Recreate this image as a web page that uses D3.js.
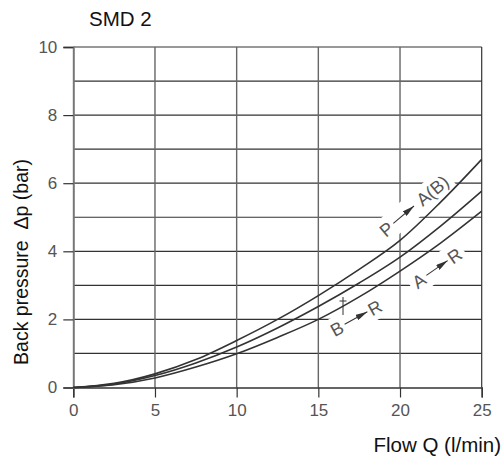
<!DOCTYPE html>
<html><head><meta charset="utf-8">
<script src="https://cdn.jsdelivr.net/npm/d3@7"></script>
<style>html,body{margin:0;padding:0;background:#fff;}svg{display:block;}</style>
</head><body>
<script>
const flow = [0, 2.5, 5, 7.5, 10, 12.5, 15, 17.5, 20, 22.5, 25];
const pToAB = [0, 0.12, 0.40, 0.82, 1.38, 2.0, 2.7, 3.47, 4.32, 5.45, 6.7];
const bToR  = [0, 0.10, 0.35, 0.72, 1.19, 1.75, 2.38, 3.07, 3.83, 4.75, 5.77];
const aToR  = [0, 0.08, 0.28, 0.60, 0.99, 1.47, 2.0, 2.66, 3.42, 4.25, 5.18];
const xTicks = [0, 5, 10, 15, 20, 25];
const yTicks = [0, 2, 4, 6, 8, 10];
const yGrid = [1, 2, 3, 4, 5, 6, 7, 8, 9, 10];
const title = "SMD 2";
const xTitle = "Flow Q (l/min)";
const yTitle = "Back pressure \u00a0\u0394p (bar)";

const W = 503, H = 461;
const svg = d3.select("body").append("svg").attr("width", W).attr("height", H);
const x = d3.scaleLinear().domain([0, 25]).range([73.3, 481.7]);
const y = d3.scaleLinear().domain([0, 10]).range([387.5, 47]);
const font = "'Liberation Sans', Arial, sans-serif";

// grid
const g = svg.append("g");
g.selectAll(".hg").data(yGrid).enter().append("line")
  .attr("x1", x(0)).attr("x2", x(25)).attr("y1", d => y(d)).attr("y2", d => y(d))
  .attr("stroke", "#333").attr("stroke-width", 1.2);
g.selectAll(".vg").data(xTicks.filter(d => d > 0 && d < 25)).enter().append("line")
  .attr("x1", d => x(d)).attr("x2", d => x(d)).attr("y1", y(0)).attr("y2", y(10))
  .attr("stroke", "#666").attr("stroke-width", 1.4);

// label halos (white) to break grid behind labels
const labels = [
  {a: "P", b: "A(B)", cx: 414, cy: 206, ang: -40, w: 84},
  {a: "A", b: "R", cx: 437, cy: 268, ang: -35, w: 56},
  {a: "B", b: "R", cx: 356, cy: 318, ang: -29, w: 56}
];
labels.forEach(l => {
  svg.append("rect").attr("x", -l.w / 2 - 4).attr("y", -12).attr("width", l.w + 8).attr("height", 24)
    .attr("fill", "#fff")
    .attr("transform", `translate(${l.cx},${l.cy}) rotate(${l.ang})`);
});

// axes
const xAxis = d3.axisBottom(x).tickValues(xTicks).tickSize(10).tickPadding(6).tickFormat(d3.format("d"));
const yAxis = d3.axisLeft(y).tickValues(yTicks).tickSize(10).tickPadding(6).tickFormat(d3.format("d"));
const gx = svg.append("g").attr("transform", `translate(0,${y(0)})`).call(xAxis);
const gy = svg.append("g").attr("transform", `translate(${x(0)},0)`).call(yAxis);
[gx, gy].forEach(a => {
  a.select(".domain").attr("stroke", "#333").attr("stroke-width", 1.4);
  a.selectAll(".tick line").attr("stroke", "#333").attr("stroke-width", 1.2);
  a.selectAll(".tick text").attr("font-family", font).attr("font-size", 17).attr("fill", "#555");
});
gy.select(".domain").attr("stroke", "#777").attr("stroke-width", 2);
svg.append("line").attr("x1", x(25)).attr("x2", x(25)).attr("y1", y(0)).attr("y2", y(10))
  .attr("stroke", "#333").attr("stroke-width", 1.2);

// curves
const line = d3.line().x((d, i) => x(flow[i])).y(d => y(d)).curve(d3.curveMonotoneX);
[pToAB, bToR, aToR].forEach(s => {
  svg.append("path").attr("d", line(s)).attr("fill", "none")
    .attr("stroke", "#333").attr("stroke-width", 1.6);
});

// labels
const defs = svg.append("defs");
defs.append("marker").attr("id", "arr").attr("viewBox", "0 0 12 6").attr("refX", 12).attr("refY", 3)
  .attr("markerWidth", 12).attr("markerHeight", 6).attr("markerUnits", "userSpaceOnUse").attr("orient", "auto")
  .append("path").attr("d", "M0,0 L12,3 L0,6 Z").attr("fill", "#333");
labels.forEach(l => {
  const gl = svg.append("g").attr("transform", `translate(${l.cx},${l.cy}) rotate(${l.ang})`)
    .attr("font-family", font).attr("font-size", 18).attr("fill", "#555");
  gl.append("text").attr("x", -l.w / 2).attr("y", 6.5).attr("text-anchor", "start").text(l.a);
  gl.append("text").attr("x", l.w / 2).attr("y", 6.5).attr("text-anchor", "end").text(l.b);
  const bw = l.b.length > 1 ? 40 : 13;
  gl.append("line").attr("x1", -l.w / 2 + 15).attr("x2", l.w / 2 - bw - 2).attr("y1", 0).attr("y2", 0)
    .attr("stroke", "#333").attr("stroke-width", 1).attr("marker-end", "url(#arr)");
});
// small leader mark
svg.append("line").attr("x1", 343).attr("x2", 343).attr("y1", 297).attr("y2", 315).attr("stroke", "#333").attr("stroke-width", 1);
svg.append("line").attr("x1", 339.5).attr("x2", 346.5).attr("y1", 301).attr("y2", 301).attr("stroke", "#333").attr("stroke-width", 1);

// titles
svg.append("text").attr("x", 89).attr("y", 26).attr("font-family", font).attr("font-size", 20.5)
  .attr("fill", "#111").text(title);
svg.append("text").attr("x", 501).attr("y", 452).attr("text-anchor", "end").attr("font-family", font)
  .attr("font-size", 20.5).attr("fill", "#111").text(xTitle);
svg.append("text").attr("transform", "translate(28,262) rotate(-90)").attr("text-anchor", "middle")
  .attr("font-family", font).attr("font-size", 19.5).attr("fill", "#111").text(yTitle);
</script>
</body></html>
